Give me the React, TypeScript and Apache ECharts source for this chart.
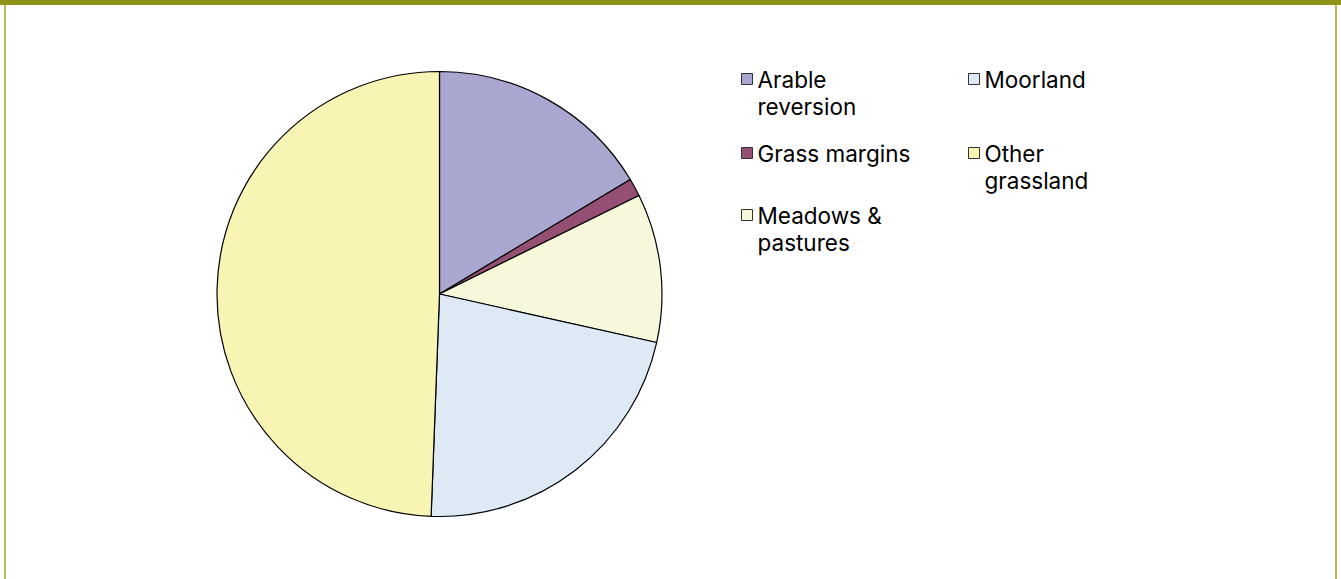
import React, { useEffect, useRef } from "react";
import * as echarts from "echarts";

const categories = ["Arable reversion", "Grass margins", "Meadows & pastures", "Moorland", "Other grassland"];
const values = [16.4, 1.3, 10.8, 22.1, 49.4];
const colors = ["#A9A6CF", "#954F72", "#F7F7DC", "#DDE9F5", "#F8F4B4"];
const legendLabels: Record<string, string> = {
  "Arable reversion": "Arable\nreversion",
  "Grass margins": "Grass margins",
  "Meadows & pastures": "Meadows &\npastures",
  "Moorland": "Moorland",
  "Other grassland": "Other\ngrassland",
};

const FONT = "Inter, 'Open Sans', sans-serif";
const LH = 27.5;

function mkLegend(name: string, left: number, iconCenter: number) {
  const twoLine = legendLabels[name].includes("\n");
  return {
    show: true,
    data: [name],
    left,
    top: twoLine ? iconCenter - 1.5 * LH : iconCenter - 0.5 * LH,
    padding: 0,
    icon: "rect",
    itemWidth: 11,
    itemHeight: 11,
    selectedMode: false,
    itemStyle: { borderColor: "#333", borderWidth: 1 },
    formatter: (n: string) => (twoLine ? " \n" : "") + legendLabels[n],
    textStyle: {
      fontFamily: FONT,
      fontSize: 22.5,
      color: "#000",
      lineHeight: LH,
    },
  };
}

export default function App() {
  const ref = useRef<HTMLDivElement>(null);
  useEffect(() => {
    if (!ref.current) return;
    const chart = echarts.init(ref.current, null, { renderer: "svg" });
    chart.setOption({
      animation: false,
      backgroundColor: "#fff",
      legend: [
        mkLegend("Arable reversion", 741, 79),
        mkLegend("Grass margins", 741, 153),
        mkLegend("Meadows & pastures", 741, 215),
        mkLegend("Moorland", 968, 79),
        mkLegend("Other grassland", 968, 153),
      ],
      graphic: [
        { type: "rect", shape: { x: 0, y: 0, width: 1341, height: 5 }, style: { fill: "#8F9416" } },
        { type: "rect", shape: { x: 4, y: 5, width: 2, height: 574 }, style: { fill: "#B5BA5A" } },
        { type: "rect", shape: { x: 1335, y: 5, width: 2, height: 574 }, style: { fill: "#B5BA5A" } },
      ],
      series: [
        {
          type: "pie",
          center: [439.5, 294],
          radius: 222.5,
          startAngle: 90,
          clockwise: true,
          label: { show: false },
          labelLine: { show: false },
          emphasis: { disabled: true },
          itemStyle: { borderColor: "#000", borderWidth: 1.2 },
          data: categories.map((c, i) => ({ name: c, value: values[i], itemStyle: { color: colors[i] } })),
        },
      ],
    });
    return () => chart.dispose();
  }, []);
  return <div ref={ref} style={{ position: "fixed", left: 0, top: 0, width: 1341, height: 579 }} />;
}
